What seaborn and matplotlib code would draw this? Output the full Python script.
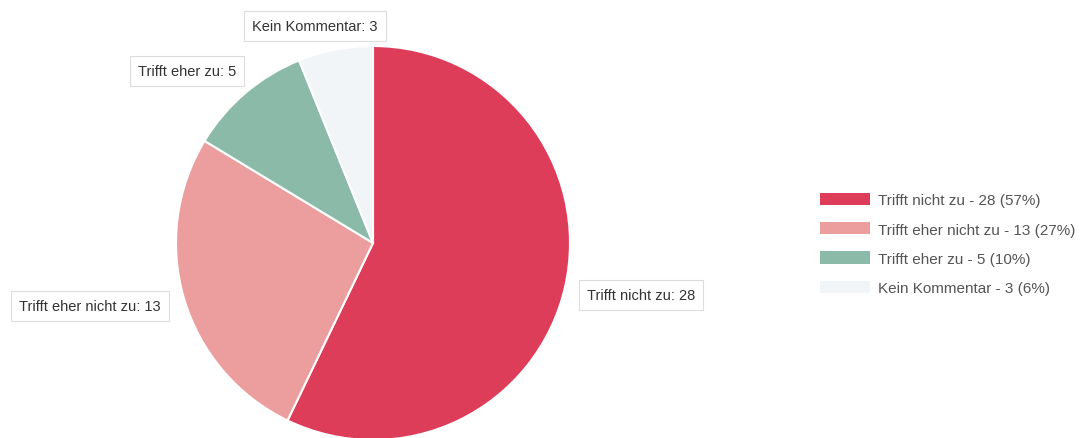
import matplotlib.pyplot as plt
import matplotlib.patches as mpatches
import seaborn as sns

# Data
categories = ['Trifft nicht zu', 'Trifft eher nicht zu', 'Trifft eher zu', 'Kein Kommentar']
counts = [28, 13, 5, 3]
percents = [57, 27, 10, 6]
colors = ['#de3d5a', '#ec9e9e', '#8bbba8', '#f2f5f8']

sns.set_theme(style='white')
plt.rcParams['font.family'] = ['Liberation Sans', 'DejaVu Sans']

fig = plt.figure(figsize=(10.91, 4.39), dpi=100)
W, H = 1091, 439
cx, cy, r = 373, 244, 197
ax = fig.add_axes([(cx - r) / W, (H - cy - r) / H, 2 * r / W, 2 * r / H])

wedges, _ = ax.pie(counts, colors=colors, startangle=90, counterclock=False,
                   wedgeprops=dict(edgecolor='white', linewidth=1.5))
ax.set_xlim(-1, 1)
ax.set_ylim(-1, 1)
ax.set_aspect('equal')
ax.axis('off')

# Slice labels (positions in pie data units)
label_pos = [(1.36, -0.264), (-1.437, -0.32), (-0.944, 0.873), (-0.294, 1.10)]
for cat, n, (x, y) in zip(categories, counts, label_pos):
    ax.text(x, y, f'{cat}: {n}', ha='center', va='center', fontsize=10.5,
            color='#333333', clip_on=False,
            bbox=dict(boxstyle='square,pad=0.55', facecolor='white',
                      edgecolor='#dddddd', linewidth=0.8))

# Legend
handles = [mpatches.Patch(facecolor=c, edgecolor='none') for c in colors]
labels = [f'{c} - {n} ({p}%)' for c, n, p in zip(categories, counts, percents)]
fig.legend(handles, labels, loc='center left', bbox_to_anchor=(820 / W, 1 - 245 / H),
           frameon=False, fontsize=11, labelcolor='#555555', handlelength=3.3,
           handleheight=0.85, handletextpad=0.5, labelspacing=0.97,
           borderpad=0, borderaxespad=0)

fig.savefig('out.png', dpi=100)
